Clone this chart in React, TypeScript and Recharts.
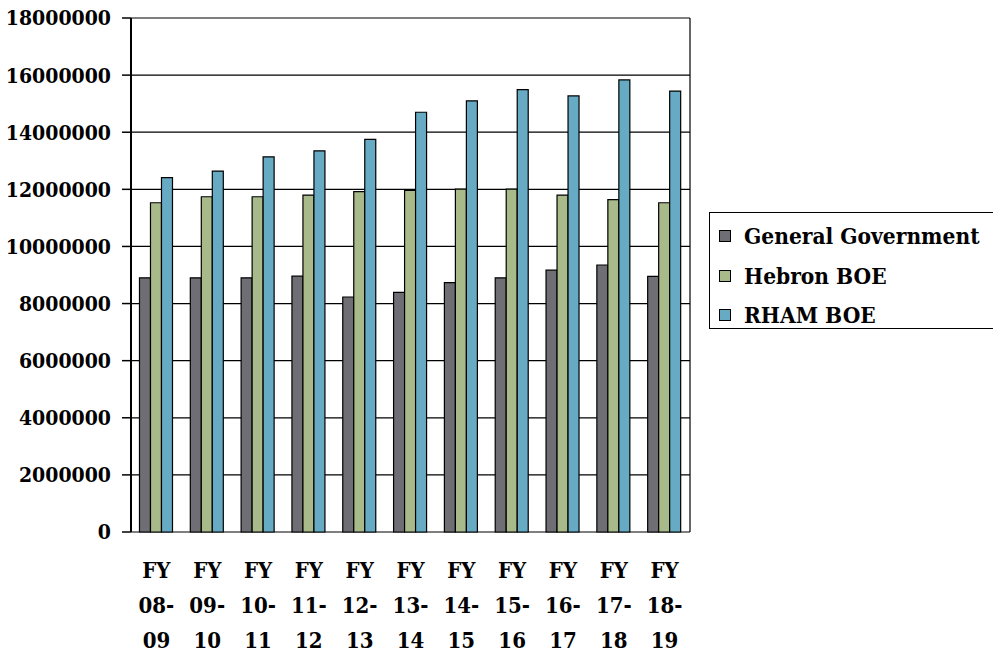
import React from 'react';
import { BarChart, Bar, XAxis, YAxis, CartesianGrid, Legend } from 'recharts';

const years = ['08-09', '09-10', '10-11', '11-12', '12-13', '13-14', '14-15', '15-16', '16-17', '17-18', '18-19'];
const generalGovernment = [8900000, 8900000, 8900000, 8960000, 8230000, 8390000, 8730000, 8900000, 9170000, 9350000, 8950000];
const hebronBoe = [11530000, 11740000, 11740000, 11800000, 11920000, 11960000, 12010000, 12010000, 11800000, 11640000, 11530000];
const rhamBoe = [12410000, 12640000, 13140000, 13350000, 13750000, 14700000, 15100000, 15490000, 15270000, 15830000, 15440000];
const yTicks = [0, 2000000, 4000000, 6000000, 8000000, 10000000, 12000000, 14000000, 16000000, 18000000];

const series = [
  { key: 'general', name: 'General Government', color: '#6f6e74' },
  { key: 'hebron', name: 'Hebron BOE', color: '#a8b98a' },
  { key: 'rham', name: 'RHAM BOE', color: '#66aac3' },
];

const data = years.map((y, i) => ({
  year: y,
  general: generalGovernment[i],
  hebron: hebronBoe[i],
  rham: rhamBoe[i],
}));

const boundaries = [...years.map((_, i) => i), years.length];

const FONT = '"DejaVu Serif Condensed", "DejaVu Serif", serif';

function YearTick(props: any) {
  const { x, y, payload } = props;
  const [a, b] = String(payload.value).split('-');
  return (
    <text x={x} y={y} textAnchor="middle" style={{ fontFamily: FONT, fontWeight: 700, fontSize: 22 }} fill="#000">
      <tspan x={x} dy={38}>FY</tspan>
      <tspan x={x} dy={35}>{a}-</tspan>
      <tspan x={x} dy={35}>{b}</tspan>
    </text>
  );
}

function LegendBox() {
  return (
    <div
      style={{
        position: 'absolute',
        left: 709,
        top: 212,
        width: 300,
        height: 117,
        border: '1.5px solid #000',
        boxSizing: 'border-box',
        fontFamily: FONT,
        fontWeight: 700,
        fontSize: 22.5,
        background: '#fff',
      }}
    >
      {series.map((s, i) => (
        <div key={s.key} style={{ position: 'absolute', left: 9, top: 10 + i * 39.5, height: 26, display: 'flex', alignItems: 'center', whiteSpace: 'nowrap' }}>
          <span style={{ display: 'inline-block', width: 10, height: 10, background: s.color, border: '1px solid #000', marginRight: 13 }} />
          <span>{s.name}</span>
        </div>
      ))}
    </div>
  );
}

export default function App() {
  return (
    <div style={{ position: 'absolute', left: 0, top: 0, width: 993, height: 652, overflow: 'hidden', background: '#fff', fontFamily: FONT }}>
      <BarChart
        width={993}
        height={652}
        data={data}
        margin={{ top: 18, right: 303, bottom: 0, left: 0 }}
        barCategoryGap="16.7%"
        barGap={0}
      >
        <CartesianGrid
          xAxisId="cat"
          horizontal
          vertical
          verticalCoordinatesGenerator={({ offset }: any) => [offset.left + offset.width]}
          stroke="#000"
          strokeWidth={1.2}
        />
        <XAxis
          xAxisId="grid"
          type="number"
          domain={[0, years.length]}
          ticks={boundaries}
          tick={false}
          tickSize={9}
          tickLine={{ stroke: '#000', strokeWidth: 1.5 }}
          axisLine={{ stroke: '#000', strokeWidth: 1.5 }}
          height={0}
          allowDataOverflow
        />
        <XAxis
          xAxisId="cat"
          dataKey="year"
          tickLine={false}
          axisLine={false}
          tick={<YearTick />}
          interval={0}
          height={120}
        />
        <YAxis
          domain={[0, 18000000]}
          ticks={yTicks}
          interval={0}
          width={131}
          tickSize={9}
          tickMargin={11}
          tickLine={{ stroke: '#000', strokeWidth: 1.5 }}
          axisLine={{ stroke: '#000', strokeWidth: 2 }}
          tick={{ style: { fontFamily: FONT, fontWeight: 700, fontSize: 21 }, fill: '#000' }}
        />
        {series.map((s) => (
          <Bar
            key={s.key}
            dataKey={s.key}
            name={s.name}
            xAxisId="cat"
            fill={s.color}
            stroke="#000"
            strokeWidth={1.2}
            isAnimationActive={false}
          />
        ))}
        <Legend content={() => null} />
      </BarChart>
      <LegendBox />
    </div>
  );
}
